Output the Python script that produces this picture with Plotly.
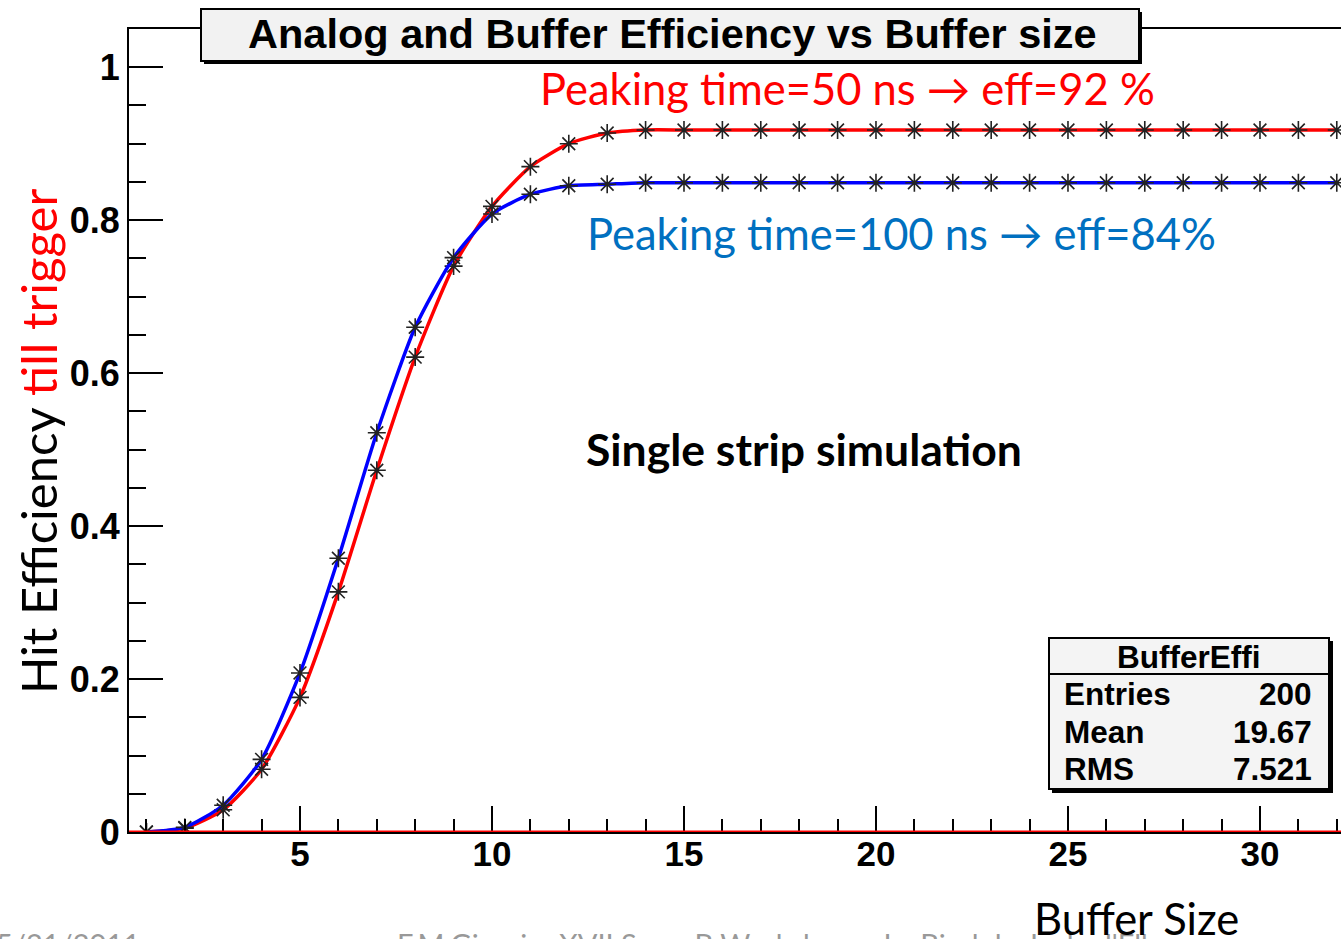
import plotly.graph_objects as go

# ---------------- data ----------------
buffer_size = list(range(1, 33))
eff_50ns = [0.000, 0.005, 0.029, 0.082, 0.176, 0.314, 0.473, 0.621, 0.740, 0.818,
            0.870, 0.900, 0.914, 0.918, 0.918, 0.918, 0.918, 0.918, 0.918, 0.918,
            0.918, 0.918, 0.918, 0.918, 0.918, 0.918, 0.918, 0.918, 0.918, 0.918,
            0.918, 0.918]
eff_100ns = [0.000, 0.006, 0.035, 0.095, 0.208, 0.358, 0.522, 0.660, 0.751, 0.808,
             0.834, 0.845, 0.847, 0.849, 0.849, 0.849, 0.849, 0.849, 0.849, 0.849,
             0.849, 0.849, 0.849, 0.849, 0.849, 0.849, 0.849, 0.849, 0.849, 0.849,
             0.849, 0.849]
y_tickvals = [0, 0.2, 0.4, 0.6, 0.8, 1.0]
y_ticktext = ["0", "0.2", "0.4", "0.6", "0.8", "1"]
x_tickvals = [5, 10, 15, 20, 25, 30]
x_ticktext = ["5", "10", "15", "20", "25", "30"]
stats_names = ["Entries", "Mean", "RMS"]
stats_values = ["200", "19.67", "7.521"]

# ---------------- geometry helpers ----------------
W, H = 1341, 939
L, R, T, B = 129, 0, 29, 107
PW, PH = W - L - R, H - T - B


def px_x(p):
    return (p - L) / PW


def px_y(p):
    return (H - B - p) / PH


X_RANGE = [0.547, 32.11]
Y_RANGE = [0, 1.05]

ROOT_FONT = "Liberation Sans, Arial, sans-serif"
SLIDE_FONT = "Lato, Open Sans, sans-serif"

fig = go.Figure()

fig.add_trace(go.Scatter(
    x=buffer_size, y=eff_50ns, mode="lines+markers",
    line=dict(color="#ff0000", width=3.5, shape="spline", smoothing=0.6),
    marker=dict(symbol="asterisk-open", size=15, color="#222222",
                line=dict(color="#222222", width=1.6)),
    showlegend=False, cliponaxis=True,
))
fig.add_trace(go.Scatter(
    x=buffer_size, y=eff_100ns, mode="lines+markers",
    line=dict(color="#0000ff", width=3.5, shape="spline", smoothing=0.6),
    marker=dict(symbol="asterisk-open", size=15, color="#222222",
                line=dict(color="#222222", width=1.6)),
    showlegend=False, cliponaxis=True,
))

shapes = []
# red zero line
shapes.append(dict(type="line", xref="paper", yref="y", x0=0, x1=1, y0=0, y1=0,
                   line=dict(color="#ff0000", width=3), layer="above"))
# title box with shadow
shapes.append(dict(type="rect", xref="paper", yref="paper",
                   x0=px_x(204), x1=px_x(1142), y0=px_y(64), y1=px_y(12),
                   fillcolor="#000000", line=dict(width=0), layer="above"))
shapes.append(dict(type="rect", xref="paper", yref="paper",
                   x0=px_x(201), x1=px_x(1139), y0=px_y(61), y1=px_y(9),
                   fillcolor="#f2f2f2", line=dict(color="#000000", width=2), layer="above"))
# stats box with shadow
shapes.append(dict(type="rect", xref="paper", yref="paper",
                   x0=px_x(1052), x1=px_x(1333), y0=px_y(793), y1=px_y(641),
                   fillcolor="#000000", line=dict(width=0), layer="above"))
shapes.append(dict(type="rect", xref="paper", yref="paper",
                   x0=px_x(1049), x1=px_x(1329), y0=px_y(789), y1=px_y(638),
                   fillcolor="#f4f4f4", line=dict(color="#000000", width=2), layer="above"))
shapes.append(dict(type="line", xref="paper", yref="paper",
                   x0=px_x(1049), x1=px_x(1329), y0=px_y(674), y1=px_y(674),
                   line=dict(color="#000000", width=2), layer="above"))

annotations = []


def add_text(text, x, y, size, color="#000000", family=SLIDE_FONT, weight="normal",
             xanchor="center", yanchor="middle", angle=0):
    annotations.append(dict(
        text=text, xref="paper", yref="paper", x=px_x(x), y=px_y(y),
        xanchor=xanchor, yanchor=yanchor, showarrow=False, textangle=angle,
        font=dict(size=size, color=color, family=family, weight=weight),
    ))


# partially visible footer (drawn first, under the axis label)
add_text("5/21/2011", -6, 924, 29, color="#999999", xanchor="left", yanchor="top")
add_text("F.M.Giorgi \u2013 XVII SuperB Workshop \u2013 La Biodola, Isola d'Elba", 395, 924, 29,
         color="#999999", xanchor="left", yanchor="top")

# title
add_text("Analog and Buffer Efficiency vs Buffer size", 672, 33, 41.5,
         family=ROOT_FONT, weight="bold")
# stats box texts
add_text("BufferEffi", 1189, 657, 31.5, family=ROOT_FONT, weight="bold")
for i, (n, v) in enumerate(zip(stats_names, stats_values)):
    yy = 694 + i * 37.5
    add_text(n, 1062, yy, 31.5, family=ROOT_FONT, weight="bold", xanchor="left")
    add_text(v, 1314, yy, 31.5, family=ROOT_FONT, weight="bold", xanchor="right")

# slide annotations
add_text("Peaking time=50 ns \u2192 eff=92 %", 847, 88, 43.5, color="#ff0000")
add_text("Peaking time=100 ns \u2192 eff=84%", 901, 233, 43.5, color="#0070c0")
add_text("Single strip simulation", 804, 448, 44.5, weight="bold")
add_text("Hit Efficiency <span style='color:#ff0000'>till trigger</span>", 38, 442, 49,
         angle=-90)
add_text("Buffer Size", 1136, 918, 43.5)

fig.update_layout(
    width=W, height=H,
    margin=dict(l=L, r=R, t=T, b=B, pad=0),
    paper_bgcolor="#ffffff", plot_bgcolor="#ffffff",
    shapes=shapes, annotations=annotations,
    xaxis=dict(
        range=X_RANGE, showgrid=False, zeroline=False,
        showline=True, linecolor="#000000", linewidth=2, mirror=True,
        ticks="inside", ticklen=26, tickwidth=2, tickcolor="#000000",
        tickvals=x_tickvals, ticktext=x_ticktext, ticklabelstandoff=-10,
        tickfont=dict(family=ROOT_FONT, size=35, color="#000000", weight="bold"),
        minor=dict(dtick=1, tick0=0, ticks="inside", ticklen=13, tickwidth=2,
                   tickcolor="#000000", showgrid=False),
    ),
    yaxis=dict(
        range=Y_RANGE, showgrid=False, zeroline=False,
        showline=True, linecolor="#000000", linewidth=2, mirror=False,
        ticks="inside", ticklen=34, tickwidth=2, tickcolor="#000000",
        tickvals=y_tickvals, ticktext=y_ticktext,
        tickfont=dict(family=ROOT_FONT, size=36, color="#000000", weight="bold"),
        minor=dict(dtick=0.05, tick0=0, ticks="inside", ticklen=17, tickwidth=2,
                   tickcolor="#000000", showgrid=False),
    ),
)

fig.write_html("out.html")
